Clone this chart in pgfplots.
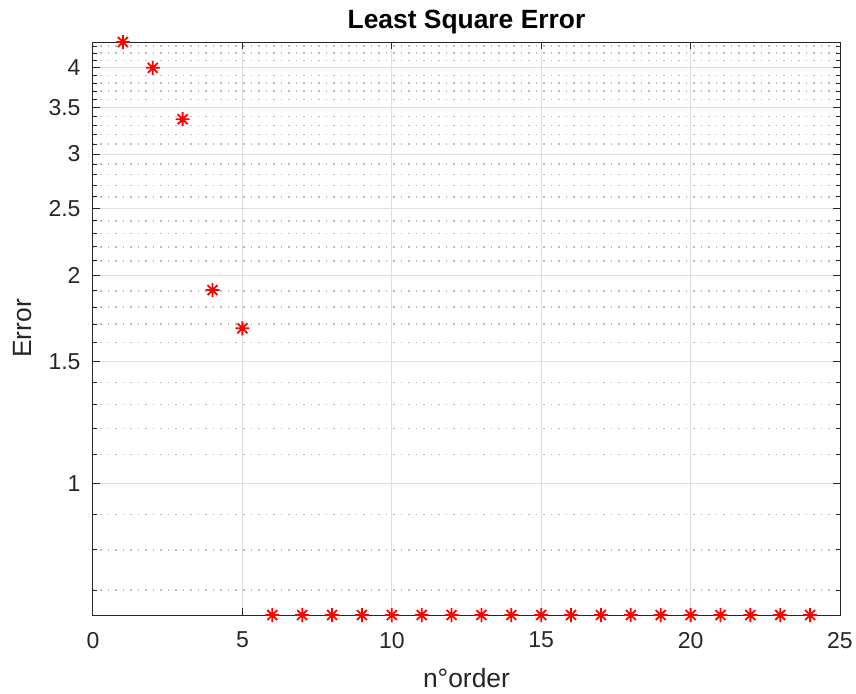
\documentclass[border=0pt]{standalone}
\usepackage{fontspec}
\setmainfont{Liberation Sans}
\usepackage{pgfplots}
\pgfplotsset{compat=1.18}
\usetikzlibrary{calc}
\definecolor{axgray}{HTML}{262626}
\definecolor{gridmaj}{HTML}{DFDFDF}
\definecolor{gridmin}{HTML}{BDBDBD}
\pgfdeclareplotmark{mstar}{%
  \pgfpathmoveto{\pgfqpoint{0pt}{\pgfplotmarksize}}%
  \pgfpathlineto{\pgfqpoint{0pt}{-\pgfplotmarksize}}%
  \pgfpathmoveto{\pgfqpoint{\pgfplotmarksize}{0pt}}%
  \pgfpathlineto{\pgfqpoint{-\pgfplotmarksize}{0pt}}%
  \pgfpathmoveto{\pgfqpoint{0.707\pgfplotmarksize}{0.707\pgfplotmarksize}}%
  \pgfpathlineto{\pgfqpoint{-0.707\pgfplotmarksize}{-0.707\pgfplotmarksize}}%
  \pgfpathmoveto{\pgfqpoint{-0.707\pgfplotmarksize}{0.707\pgfplotmarksize}}%
  \pgfpathlineto{\pgfqpoint{0.707\pgfplotmarksize}{-0.707\pgfplotmarksize}}%
  \pgfusepathqstroke}
\begin{document}
\begin{tikzpicture}
\begin{axis}[
  scale only axis,
  width=373.5pt, height=286.5pt,
  xmin=0, xmax=25, ymin=0.644, ymax=4.36,
  ymode=log,
  xtick={0,5,10,15,20,25},
  ytick={1,1.5,2,2.5,3,3.5,4},
  yticklabels={1,1.5,2,2.5,3,3.5,4},
  minor ytick={0.7,0.8,0.9,1.1,1.2,1.3,1.4,1.6,1.7,1.8,1.9,2.1,2.2,2.3,2.4,2.6,2.7,2.8,2.9,3.1,3.2,3.3,3.4,3.6,3.7,3.8,3.9,4.1,4.2,4.3},
  /pgf/number format/assume math mode=true,
  grid=both,
  major grid style={color=gridmaj, line width=0.5pt},
  minor grid style={color=gridmin, line width=0.75pt, dash pattern=on 0.75pt off 3pt},
  tick align=inside,
  major tick length=3.75pt,
  minor tick length=2pt,
  every tick/.style={color=axgray, line width=0.5pt, solid},
  axis line style={color=axgray, line width=0.5pt},
  tick label style={color=axgray, font=\fontsize{11.5}{13}\selectfont},
  xticklabel style={yshift=-5pt},
  yticklabel style={xshift=-2.7pt},
  title={Least Square Error},
  every axis title shift=0pt,
  title style={font=\bfseries\fontsize{13.2}{15}\selectfont, at={(axis description cs:0.5,1.024)}, anchor=base},
  xlabel={n°order},
  ylabel={Error},
  label style={color=axgray, font=\fontsize{13.2}{15}\selectfont},
  xlabel style={at={(axis description cs:0.5,-0.1257)}, anchor=base},
  ylabel style={at={(axis description cs:-0.0937,0.5)}, anchor=center},
  clip=false,
]
\addplot[only marks, color=red, mark=mstar, mark size=3.5pt, line width=0.9pt]
coordinates {
(1,4.36) (2,4.0) (3,3.37) (4,1.905) (5,1.677)
(6,0.644) (7,0.644) (8,0.644) (9,0.644) (10,0.644) (11,0.644) (12,0.644)
(13,0.644) (14,0.644) (15,0.644) (16,0.644) (17,0.644) (18,0.644) (19,0.644)
(20,0.644) (21,0.644) (22,0.644) (23,0.644) (24,0.644)
};
\end{axis}
\pgfresetboundingbox
\path[use as bounding box] ($(current axis.south west)+(-46.5pt,-39pt)$) rectangle ($(current axis.north east)+(8pt,21pt)$);
\end{tikzpicture}
\end{document}
